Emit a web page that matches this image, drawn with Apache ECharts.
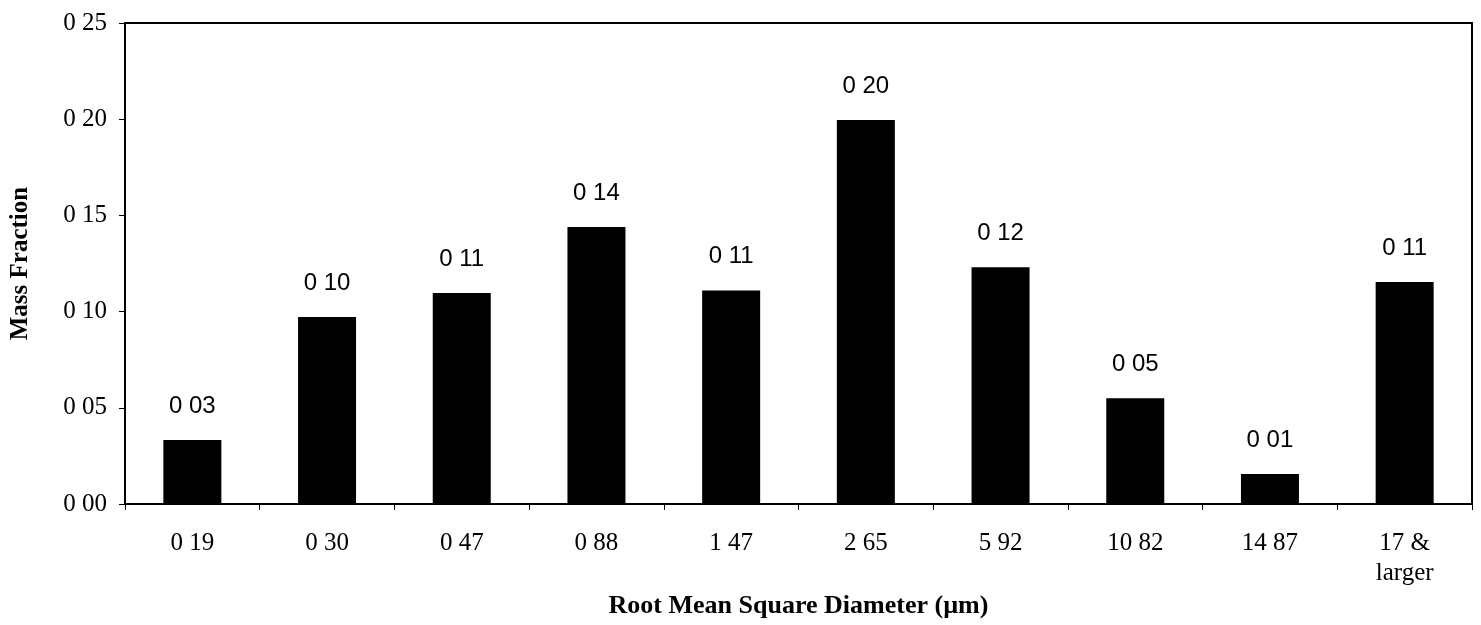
<!DOCTYPE html>
<html>
<head>
<meta charset="utf-8">
<script src="https://cdn.jsdelivr.net/npm/echarts@6/dist/echarts.min.js"></script>
<style>
html,body{margin:0;padding:0;background:#fff;}
#chart{width:1481px;height:625px;}
</style>
</head>
<body>
<div id="chart"></div>
<script>
const categories = ['0 19', '0 30', '0 47', '0 88', '1 47', '2 65', '5 92', '10 82', '14 87', '17 &\nlarger'];
const massFraction = [0.0333, 0.0972, 0.1097, 0.1440, 0.1110, 0.1996, 0.1230, 0.0550, 0.0156, 0.1154];
const barLabels = ['0 03', '0 10', '0 11', '0 14', '0 11', '0 20', '0 12', '0 05', '0 01', '0 11'];
const yTicks = { min: 0, max: 0.25, interval: 0.05 };

const chart = echarts.init(document.getElementById('chart'), null, { renderer: 'canvas' });
const serif = '"Liberation Serif", "Times New Roman", serif';
chart.setOption({
  animation: false,
  backgroundColor: '#ffffff',
  grid: {
    left: 123, right: 9, top: 23, bottom: 121,
    show: true, borderColor: '#000', borderWidth: 2, backgroundColor: 'transparent'
  },
  xAxis: {
    type: 'category',
    data: categories,
    name: 'Root Mean Square Diameter (µm)',
    nameLocation: 'middle',
    nameGap: 85,
    nameTextStyle: { fontFamily: serif, fontWeight: 'bold', fontSize: 26, color: '#000' },
    axisLine: { lineStyle: { color: '#000', width: 2 } },
    axisTick: { show: true, alignWithLabel: false, length: 6, lineStyle: { color: '#000', width: 1 } },
    axisLabel: { fontFamily: serif, fontSize: 25, color: '#000', margin: 24, lineHeight: 30, interval: 0 }
  },
  yAxis: {
    type: 'value',
    min: yTicks.min, max: yTicks.max, interval: yTicks.interval,
    name: 'Mass Fraction',
    nameLocation: 'middle',
    nameGap: 92,
    nameRotate: 90,
    nameTextStyle: { fontFamily: serif, fontWeight: 'bold', fontSize: 25, color: '#000' },
    axisLine: { show: true, lineStyle: { color: '#000', width: 2 } },
    axisTick: { show: true, length: 6, lineStyle: { color: '#000', width: 1 } },
    splitLine: { show: false },
    axisLabel: {
      fontFamily: serif, fontSize: 25, color: '#000', margin: 18,
      formatter: v => v.toFixed(2).replace('.', ' ')
    }
  },
  series: [{
    type: 'bar',
    data: massFraction,
    barWidth: 58,
    itemStyle: { color: '#000' },
    label: {
      show: true,
      position: 'top',
      distance: 22,
      fontFamily: '"Liberation Sans", Arial, sans-serif',
      fontSize: 24,
      color: '#000',
      formatter: p => barLabels[p.dataIndex]
    }
  }]
});
</script>
</body>
</html>
